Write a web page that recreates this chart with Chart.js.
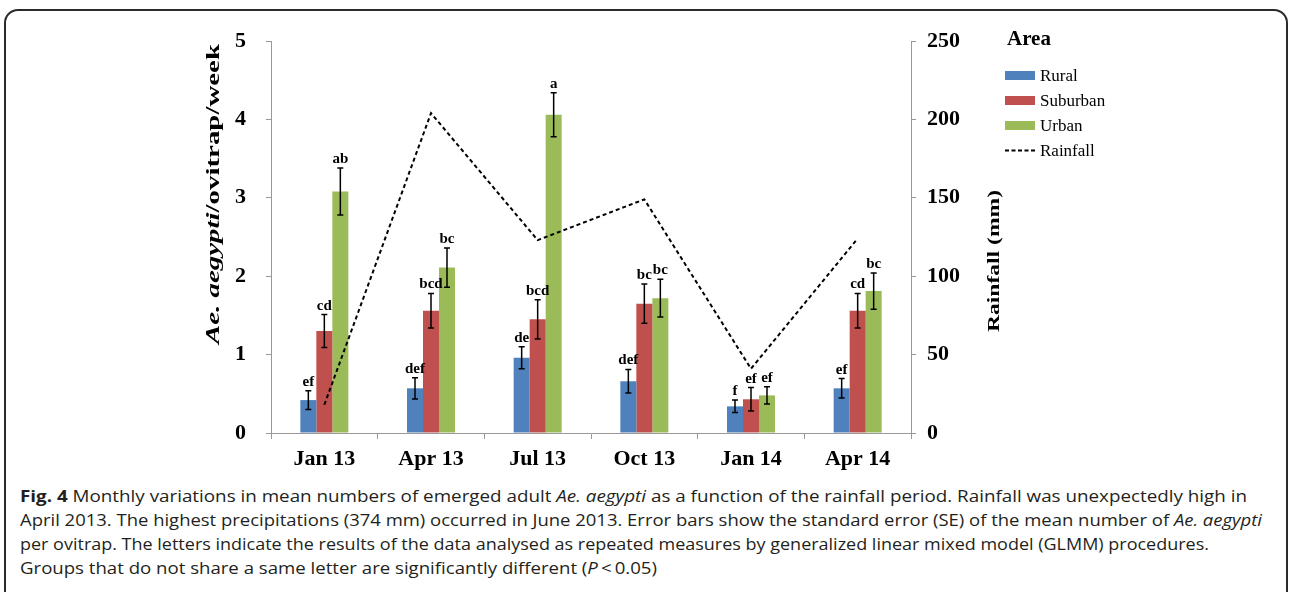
<!DOCTYPE html>
<html><head><meta charset="utf-8">
<script src="https://cdn.jsdelivr.net/npm/chart.js@4.4.0/dist/chart.umd.min.js"></script>
<style>
html,body{margin:0;padding:0;background:#fff;width:1292px;height:592px;overflow:hidden;}
#wrap{position:absolute;left:0;top:0;width:1292px;height:480px;}
#frame{position:absolute;left:4px;top:9px;width:1280px;height:640px;border:2px solid #2b2b2b;border-radius:14px;pointer-events:none;}
#cap{position:absolute;left:20px;top:484px;font-family:"Open Sans",sans-serif;font-size:16.5px;line-height:24px;color:#231f20;}
#cap div{white-space:nowrap;transform-origin:0 0;width:max-content;}
</style></head><body>
<div id="frame"></div>
<div id="wrap"><canvas id="c" width="1292" height="480"></canvas></div>
<div id="cap">
<div data-w="1227"><b>Fig. 4</b> Monthly variations in mean numbers of emerged adult <i>Ae. aegypti</i> as a function of the rainfall period. Rainfall was unexpectedly high in</div>
<div data-w="1242">April 2013. The highest precipitations (374 mm) occurred in June 2013. Error bars show the standard error (SE) of the mean number of <i>Ae. aegypti</i></div>
<div data-w="1189">per ovitrap. The letters indicate the results of the data analysed as repeated measures by generalized linear mixed model (GLMM) procedures.</div>
<div data-w="637">Groups that do not share a same letter are significantly different (<i>P</i>&thinsp;&lt;&thinsp;0.05)</div>
</div>
<script>
const categories = ['Jan 13','Apr 13','Jul 13','Oct 13','Jan 14','Apr 14'];
const rural = [0.42,0.57,0.96,0.66,0.34,0.57];
const ruralSE = [0.12,0.135,0.14,0.15,0.08,0.125];
const suburban = [1.30,1.56,1.45,1.65,0.43,1.56];
const suburbanSE = [0.21,0.22,0.25,0.25,0.15,0.22];
const urban = [3.08,2.11,4.06,1.72,0.48,1.81];
const urbanSE = [0.30,0.25,0.28,0.24,0.11,0.23];
const rainfall = [18,204,123,149,41,124];
const ruralLetters = ['ef','def','de','def','f','ef'];
const suburbanLetters = ['cd','bcd','bcd','bc','ef','cd'];
const urbanLetters = ['ab','bc','a','bc','ef','bc'];
const leftTicksMax = 5, leftStep = 1, rightTicksMax = 250, rightStep = 50;

const SERIF = '"Liberation Serif","Times New Roman",serif';
const tickFont = {family: SERIF, size: 22, weight: 'bold'};

const errorBars = {
  id: 'errorBars',
  afterDatasetDraw(chart, args) {
    const ds = chart.data.datasets[args.index];
    if (!ds.se) return;
    const ctx = chart.ctx, y = chart.scales.y;
    ctx.save();
    ctx.strokeStyle = '#000'; ctx.lineWidth = 1.5;
    ctx.fillStyle = '#000';
    ctx.font = 'bold 15px ' + SERIF;
    ctx.textAlign = 'center'; ctx.textBaseline = 'alphabetic';
    args.meta.data.forEach((bar, i) => {
      const v = ds.data[i], e = ds.se[i];
      const t = y.getPixelForValue(v + e), b = y.getPixelForValue(v - e);
      const x = bar.x;
      ctx.beginPath();
      ctx.moveTo(x, t); ctx.lineTo(x, b);
      ctx.moveTo(x - 3, t); ctx.lineTo(x + 3, t);
      ctx.moveTo(x - 3, b); ctx.lineTo(x + 3, b);
      ctx.stroke();
      ctx.fillText(ds.letters[i], x, t - 5);
    });
    ctx.restore();
  }
};

const decor = {
  id: 'decor',
  afterDraw(chart) {
    const ctx = chart.ctx;
    ctx.save();
    ctx.fillStyle = '#000';
    // legend
    ctx.font = 'bold 21px ' + SERIF;
    ctx.textAlign = 'left'; ctx.textBaseline = 'alphabetic';
    ctx.fillText('Area', 1007, 45);
    ctx.font = '17px ' + SERIF;
    const items = chart.data.datasets.filter(d => d.type !== 'line');
    items.forEach((d, i) => {
      const cy = 75.5 + 25 * i;
      ctx.fillStyle = d.backgroundColor;
      ctx.fillRect(1005, cy - 4.5, 30, 9);
      ctx.fillStyle = '#000';
      ctx.fillText(d.label, 1040, cy + 5.5);
    });
    const ld = chart.data.datasets.find(d => d.type === 'line');
    const cy = 75.5 + 25 * items.length;
    ctx.strokeStyle = '#000'; ctx.lineWidth = 2; ctx.setLineDash([4, 2.5]);
    ctx.beginPath(); ctx.moveTo(1005, cy); ctx.lineTo(1036, cy); ctx.stroke();
    ctx.setLineDash([]);
    ctx.fillText(ld.label, 1040, cy + 5.5);

    // left axis title (mixed italic)
    const size = 27;
    const p1 = 'Ae. aegypti', p2 = '/ovitrap/week';
    const f1 = 'italic bold ' + size + 'px ' + SERIF, f2 = 'bold ' + size + 'px ' + SERIF;
    ctx.font = f1; const w1 = ctx.measureText(p1).width;
    ctx.font = f2; const w2 = ctx.measureText(p2).width;
    const sc = 300 / (w1 + w2);
    ctx.save();
    ctx.translate(214, 194); ctx.rotate(-Math.PI / 2); ctx.scale(sc, 0.7);
    ctx.textBaseline = 'middle'; ctx.textAlign = 'left';
    ctx.font = f1; ctx.fillText(p1, -(w1 + w2) / 2, 0);
    ctx.font = f2; ctx.fillText(p2, -(w1 + w2) / 2 + w1, 0);
    ctx.restore();

    // right axis title
    ctx.save();
    ctx.font = 'bold 23px ' + SERIF;
    const rw = ctx.measureText('Rainfall (mm)').width;
    ctx.translate(995, 261); ctx.rotate(-Math.PI / 2); ctx.scale(142 / rw, 0.75);
    ctx.textBaseline = 'middle'; ctx.textAlign = 'center';
    ctx.fillText('Rainfall (mm)', 0, 0);
    ctx.restore();
    ctx.restore();
  }
};

new Chart(document.getElementById('c'), {
  type: 'bar',
  data: {
    labels: categories,
    datasets: [
      {type: 'line', label: 'Rainfall', data: rainfall, yAxisID: 'y1', borderColor: '#000', borderWidth: 2, borderDash: [4, 3], pointRadius: 0, fill: false, tension: 0, order: 0},
      {label: 'Rural', data: rural, se: ruralSE, letters: ruralLetters, backgroundColor: '#4F81BD', yAxisID: 'y', order: 1},
      {label: 'Suburban', data: suburban, se: suburbanSE, letters: suburbanLetters, backgroundColor: '#C0504D', yAxisID: 'y', order: 1},
      {label: 'Urban', data: urban, se: urbanSE, letters: urbanLetters, backgroundColor: '#9BBB59', yAxisID: 'y', order: 1}
    ]
  },
  options: {
    responsive: false, animation: false, devicePixelRatio: 1,
    categoryPercentage: 0.45, barPercentage: 1.0,
    layout: {padding: {top: 41, left: 0, right: 0, bottom: 0}},
    plugins: {legend: {display: false}, tooltip: {enabled: false}},
    scales: {
      x: {
        offset: true,
        grid: {offset: true, drawOnChartArea: false, tickLength: 6, color: '#999'},
        border: {color: '#999'},
        ticks: {color: '#000', font: tickFont, padding: 7, maxRotation: 0},
        afterFit(s) { s.height = 47; }
      },
      y: {
        position: 'left', min: 0, max: leftTicksMax,
        ticks: {stepSize: leftStep, color: '#000', font: tickFont, padding: 20},
        grid: {drawOnChartArea: false, tickLength: 5, color: '#999'},
        border: {color: '#999'},
        afterFit(s) { s.width = 271; }
      },
      y1: {
        position: 'right', min: 0, max: rightTicksMax,
        ticks: {stepSize: rightStep, color: '#000', font: tickFont, padding: 11},
        grid: {drawOnChartArea: false, tickLength: 5, color: '#999'},
        border: {color: '#999'},
        afterFit(s) { s.width = 381; }
      }
    }
  },
  plugins: [errorBars, decor]
});

function fitCaption() {
  document.querySelectorAll('#cap div').forEach(d => {
    d.style.transform = 'none';
    const w = d.getBoundingClientRect().width;
    const target = +d.dataset.w;
    d.style.transform = 'scaleX(' + (target / w) + ')';
  });
}
fitCaption();
if (document.fonts && document.fonts.ready) document.fonts.ready.then(fitCaption);
</script>
</body></html>
